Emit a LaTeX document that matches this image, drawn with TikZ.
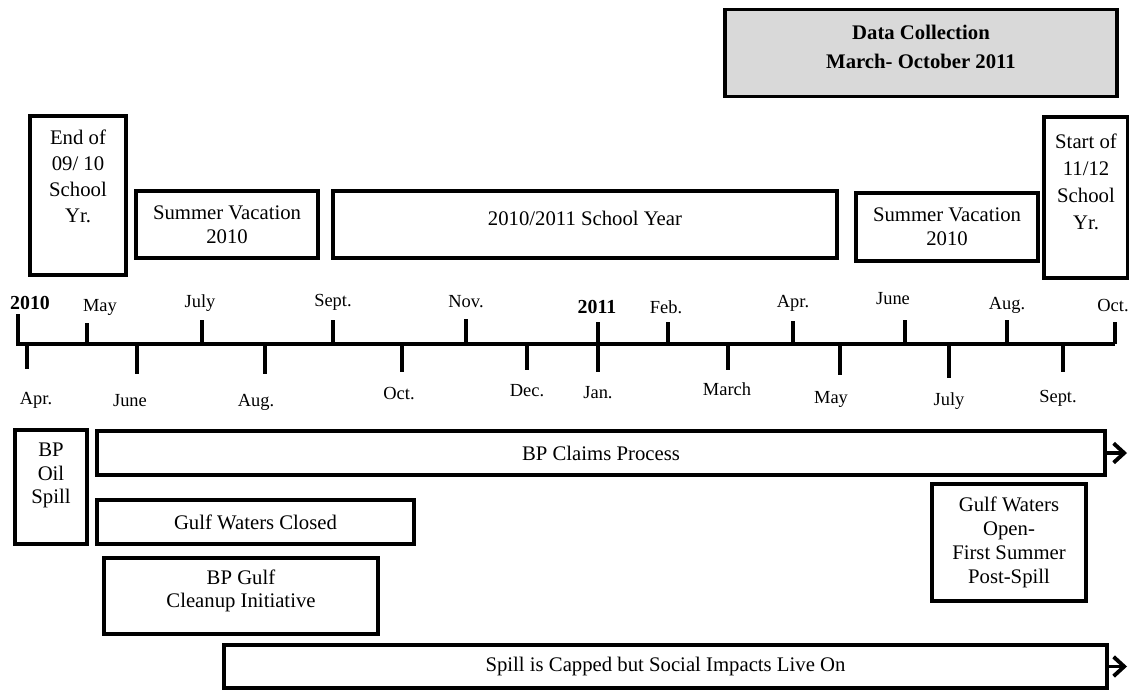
\documentclass[tikz,border=0pt]{standalone}
\usepackage{fontspec}
\setmainfont{Liberation Serif}
\usetikzlibrary{arrows.meta, positioning}

\newdimen\pxu
\pxu=0.02cm

\begin{document}
\begin{tikzpicture}[x=0.02cm, y=-0.02cm,
                    box/.style={draw, line width=1.9pt, align=center, inner sep=0pt,
                            font=\fontsize{11.8}{13.6}\selectfont},
                    mon/.style={inner sep=1pt, font=\fontsize{10.5}{12}\selectfont},
                    yr/.style={inner sep=1pt, font=\bfseries\fontsize{11.3}{13}\selectfont},
                    tickline/.style={line width=1.9pt},
                    arr/.style={-{Straight Barb[length=6pt, width=11pt, line width=2.2pt]}, line width=1.9pt}]
                \useasboundingbox (0,0) rectangle (1129,690);
                % top boxes
                \node[box, fill=black!15, font=\bfseries\fontsize{11.8}{16.3}\selectfont,
                      minimum width=392\pxu, minimum height=87\pxu, text depth=7.4pt] (datacol) at (921,53)
                      {Data Collection\\March- October 2011};
                \node[box, font=\fontsize{11.8}{14.7}\selectfont,
                      minimum width=96\pxu, minimum height=159\pxu, text depth=22.1pt] (endyr) at (78,195.5)
                      {End of\\09/ 10\\School\\Yr.};
                \node[box, minimum width=182\pxu, minimum height=67\pxu] (sumvac) at (227,224.5)
                      {Summer Vacation\\2010};
                \node[box, minimum width=504\pxu, minimum height=67\pxu, text depth=6.8pt] (schyr) at (585,224.5)
                      {2010/2011 School Year};
                \node[box, minimum width=182\pxu, minimum height=68\pxu] (sumvacb) at (947,227)
                      {Summer Vacation\\2010};
                \node[box, font=\fontsize{11.8}{15.5}\selectfont,
                      minimum width=84\pxu, minimum height=161\pxu, text depth=18.1pt] (startyr) at (1086,197.5)
                      {Start of\\11/12\\School\\Yr.};
                % timeline
                \draw[tickline] (16,344) -- (1115,344);
                \foreach \x/\t/\lx/\ly/\txt [count=\i] in {87/323/100/307/May, 202/320/200/303/July,
                        333/320/333/302/Sept., 466/319/466/302/Nov., 668/322/666/307/Feb.,
                        793/321/793/303/Apr., 905/320/893/299/June, 1007/320/1007/305/Aug.,
                        1115/322/1113/306/Oct.}{
                    \draw[tickline] (\x,344) -- (\x,\t);
                    \node[mon] (up\i) at (\lx,\ly) {\txt};
                }
                \foreach \x/\t/\lx/\ly/\txt [count=\i] in {27/369/36/400/Apr., 137/374/130/401/June,
                        265/374/256/402/Aug., 402/372/399/394/Oct., 527/370/527/391/Dec.,
                        598/372/598/393/Jan., 728/370/727/389/March, 840/375/831/399/May,
                        949/378/949/401/July, 1063/372/1058/398/Sept.}{
                    \draw[tickline] (\x,344) -- (\x,\t);
                    \node[mon] (dn\i) at (\lx,\ly) {\txt};
                }
                \draw[tickline] (18,344) -- (18,314);
                \node[yr] (y2010) at (30,303) {2010};
                \draw[tickline] (598,344) -- (598,322);
                \node[yr] (y2011) at (597,307) {2011};
                % bottom boxes
                \node[box, minimum width=72\pxu, minimum height=114\pxu, text depth=15.6pt] (oilspill) at (51,487)
                      {BP\\Oil\\Spill};
                \node[box, minimum width=1008\pxu, minimum height=44\pxu] (claims) at (601,453)
                      {BP Claims Process};
                \node[box, minimum width=317\pxu, minimum height=44\pxu] (closed) at (255.5,522)
                      {Gulf Waters Closed};
                \node[box, minimum width=274\pxu, minimum height=76\pxu, text depth=8.3pt] (cleanup) at (241,596)
                      {BP Gulf\\Cleanup Initiative};
                \node[box, minimum width=154\pxu, minimum height=117\pxu] (gwopen) at (1009,542.5)
                      {Gulf Waters\\Open-\\First Summer\\Post-Spill};
                \node[box, minimum width=883\pxu, minimum height=43\pxu] (capped) at (665.5,666.5)
                      {Spill is Capped but Social Impacts Live On};
                \coordinate (claimsend) at (1127,453);
                \coordinate (cappedend) at (1127,666.5);
                \draw[arr] (claims.east) -- (claimsend);
                \draw[arr] (capped.east) -- (cappedend);
            \end{tikzpicture}
\end{document}
